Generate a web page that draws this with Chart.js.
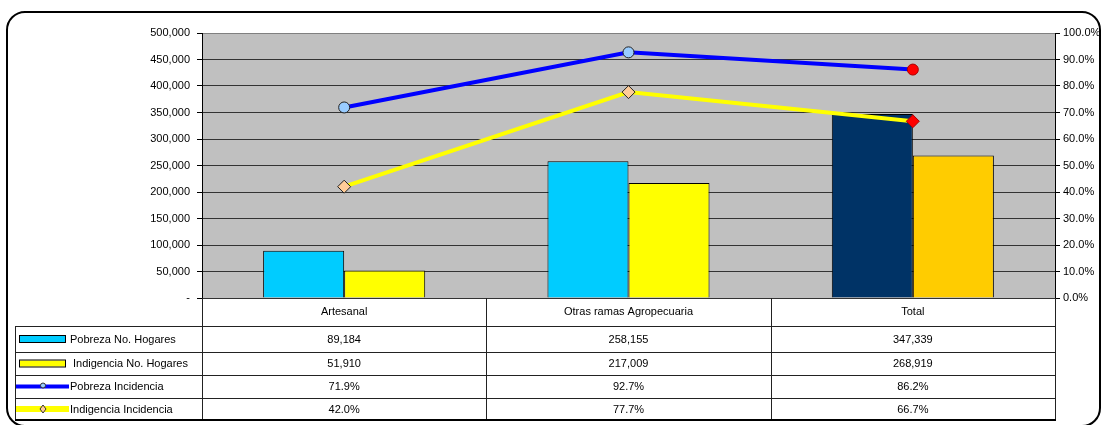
<!DOCTYPE html>
<html><head><meta charset="utf-8">
<script src="https://cdn.jsdelivr.net/npm/chart.js@4.4.1/dist/chart.umd.min.js"></script>
<style>html,body{margin:0;padding:0;background:#fff;overflow:hidden}canvas{display:block}</style>
</head><body>
<canvas id="c" width="1102" height="425"></canvas>
<script>
const categories = ['Artesanal', 'Otras ramas Agropecuaria', 'Total'];
const seriesNames = ['Pobreza No. Hogares', 'Indigencia No. Hogares', 'Pobreza Incidencia', 'Indigencia Incidencia'];
const pobrezaHogares = [89184, 258155, 347339];
const indigenciaHogares = [51910, 217009, 268919];
const pobrezaIncidencia = [71.9, 92.7, 86.2];
const indigenciaIncidencia = [42.0, 77.7, 66.7];
const leftTickLabels = ['-', '50,000', '100,000', '150,000', '200,000', '250,000', '300,000', '350,000', '400,000', '450,000', '500,000'];
const rightTickLabels = ['0.0%', '10.0%', '20.0%', '30.0%', '40.0%', '50.0%', '60.0%', '70.0%', '80.0%', '90.0%', '100.0%'];

const FONT = '"Liberation Sans", Arial, sans-serif';
const fmtNum = v => v.toLocaleString('en-US');
const fmtPct = v => v.toFixed(1) + '%';

const framePlugin = {
  id: 'frame',
  beforeDraw(chart) {
    const {ctx, chartArea: ca} = chart;
    ctx.save();
    ctx.fillStyle = '#fff';
    ctx.fillRect(0, 0, chart.width, chart.height);
    ctx.strokeStyle = '#000';
    ctx.lineWidth = 2;
    ctx.beginPath();
    ctx.roundRect(7, 12, 1093, 414, 18);
    ctx.stroke();
    ctx.fillStyle = '#C0C0C0';
    ctx.fillRect(ca.left, ca.top, ca.right - ca.left, ca.bottom - ca.top);
    ctx.restore();
  },
  afterDraw(chart) {
    const {ctx, chartArea: ca} = chart;
    const n = categories.length;
    const cw = (ca.right - ca.left) / n;
    const legLeft = 15;
    const rows = [ca.bottom, 326, 352, 375, 398, 420];
    ctx.save();
    ctx.strokeStyle = '#222';
    ctx.lineWidth = 1;
    // horizontal lines
    for (let r = 1; r < rows.length - 1; r++) {
      ctx.beginPath();
      ctx.moveTo(legLeft, rows[r] + 0.5);
      ctx.lineTo(ca.right, rows[r] + 0.5);
      ctx.stroke();
    }
    // vertical lines
    for (let i = 0; i <= n; i++) {
      const x = Math.round(ca.left + i * cw) + 0.5;
      ctx.beginPath();
      ctx.moveTo(x, ca.bottom);
      ctx.lineTo(x, rows[5]);
      ctx.stroke();
    }
    ctx.beginPath();
    ctx.moveTo(legLeft + 0.5, rows[1]);
    ctx.lineTo(legLeft + 0.5, rows[5]);
    ctx.stroke();
    ctx.lineWidth = 2;
    ctx.strokeStyle = '#000';
    ctx.beginPath();
    ctx.moveTo(legLeft, rows[5]);
    ctx.lineTo(ca.right + 1, rows[5]);
    ctx.stroke();

    // text
    ctx.fillStyle = '#000';
    ctx.font = '11px ' + FONT;
    ctx.textBaseline = 'middle';
    ctx.textAlign = 'center';
    const tableRows = [
      pobrezaHogares.map(fmtNum),
      indigenciaHogares.map(fmtNum),
      pobrezaIncidencia.map(fmtPct),
      indigenciaIncidencia.map(fmtPct)
    ];
    for (let i = 0; i < n; i++) {
      const cx = ca.left + (i + 0.5) * cw;
      ctx.fillText(categories[i], cx, (rows[0] + rows[1]) / 2);
      for (let r = 0; r < 4; r++) {
        ctx.fillText(tableRows[r][i], cx, (rows[r + 1] + rows[r + 2]) / 2 + 0.5);
      }
    }
    // legend keys
    ctx.textAlign = 'left';
    const ds = chart.data.datasets;
    const byLabel = name => ds.find(d => d.label === name);
    for (let r = 0; r < 4; r++) {
      const cy = (rows[r + 1] + rows[r + 2]) / 2;
      const d = byLabel(seriesNames[r]);
      if (r < 2) {
        ctx.fillStyle = d.backgroundColor[0];
        ctx.fillRect(19, cy - 3, 46, 6);
        ctx.strokeStyle = '#000';
        ctx.lineWidth = 1;
        ctx.strokeRect(19.5, cy - 3.5, 46, 7);
      } else {
        ctx.strokeStyle = d.borderColor;
        ctx.lineWidth = r === 2 ? 4 : 6;
        ctx.beginPath();
        ctx.moveTo(16, cy);
        ctx.lineTo(69, cy);
        ctx.stroke();
        ctx.fillStyle = d.pointBackgroundColor[0];
        ctx.strokeStyle = '#333';
        ctx.lineWidth = 1;
        ctx.beginPath();
        if (r === 2) {
          ctx.arc(43, cy - 1, 2.5, 0, Math.PI * 2);
        } else {
          ctx.moveTo(43, cy - 4); ctx.lineTo(46, cy); ctx.lineTo(43, cy + 4); ctx.lineTo(40, cy); ctx.closePath();
        }
        ctx.fill();
        ctx.stroke();
      }
      ctx.fillStyle = '#000';
      ctx.fillText(seriesNames[r], r === 1 ? 73 : 70, cy + 0.5);
    }
    ctx.restore();
  }
};

new Chart(document.getElementById('c'), {
  type: 'bar',
  data: {
    labels: categories,
    datasets: [
      {
        type: 'line', label: seriesNames[2], data: pobrezaIncidencia, yAxisID: 'y2', order: 0,
        borderColor: '#0000FF', borderWidth: 4, tension: 0,
        pointStyle: 'circle', pointRadius: 5.5,
        pointBackgroundColor: ['#99CCFF', '#99CCFF', '#FF0000'],
        pointBorderColor: ['#222', '#222', '#AA0000'], pointBorderWidth: 1
      },
      {
        type: 'line', label: seriesNames[3], data: indigenciaIncidencia, yAxisID: 'y2', order: 0,
        borderColor: '#FFFF00', borderWidth: 4, tension: 0,
        pointStyle: 'rectRot', pointRadius: 6.5,
        pointBackgroundColor: ['#FFCC99', '#FFCC99', '#FF0000'],
        pointBorderColor: ['#222', '#222', '#AA0000'], pointBorderWidth: 1
      },
      {
        label: seriesNames[0], data: pobrezaHogares, yAxisID: 'y', order: 1,
        backgroundColor: ['#00CCFF', '#00CCFF', '#003366'], borderColor: '#000', borderWidth: 1,
        barPercentage: 1, categoryPercentage: 0.57
      },
      {
        label: seriesNames[1], data: indigenciaHogares, yAxisID: 'y', order: 1,
        backgroundColor: ['#FFFF00', '#FFFF00', '#FFCC00'], borderColor: '#000', borderWidth: 1,
        barPercentage: 1, categoryPercentage: 0.57
      }
    ]
  },
  options: {
    responsive: false,
    animation: false,
    devicePixelRatio: 1,
    layout: {padding: {left: 0, right: 0, top: 33, bottom: 127}},
    plugins: {legend: {display: false}, tooltip: {enabled: false}, title: {display: false}},
    scales: {
      x: {display: false},
      y: {
        position: 'left', min: 0, max: 500000,
        afterFit: s => { s.width = 202; },
        ticks: {stepSize: 50000, color: '#000', font: {family: FONT, size: 11}, padding: 7,
          callback: (v, i) => leftTickLabels[i]},
        grid: {color: c => (c.tick && c.tick.value === 500000) ? '#808080' : '#333', lineWidth: 1,
          tickLength: 5, tickColor: '#000'},
        border: {display: true, color: '#000', width: 1}
      },
      y2: {
        position: 'right', min: 0, max: 100,
        afterFit: s => { s.width = 47; },
        ticks: {stepSize: 10, color: '#000', font: {family: FONT, size: 11}, padding: 3,
          callback: (v, i) => rightTickLabels[i]},
        grid: {drawOnChartArea: false, tickLength: 5, tickColor: '#000'},
        border: {display: true, color: '#000', width: 1}
      }
    }
  },
  plugins: [framePlugin]
});
</script>
</body></html>
